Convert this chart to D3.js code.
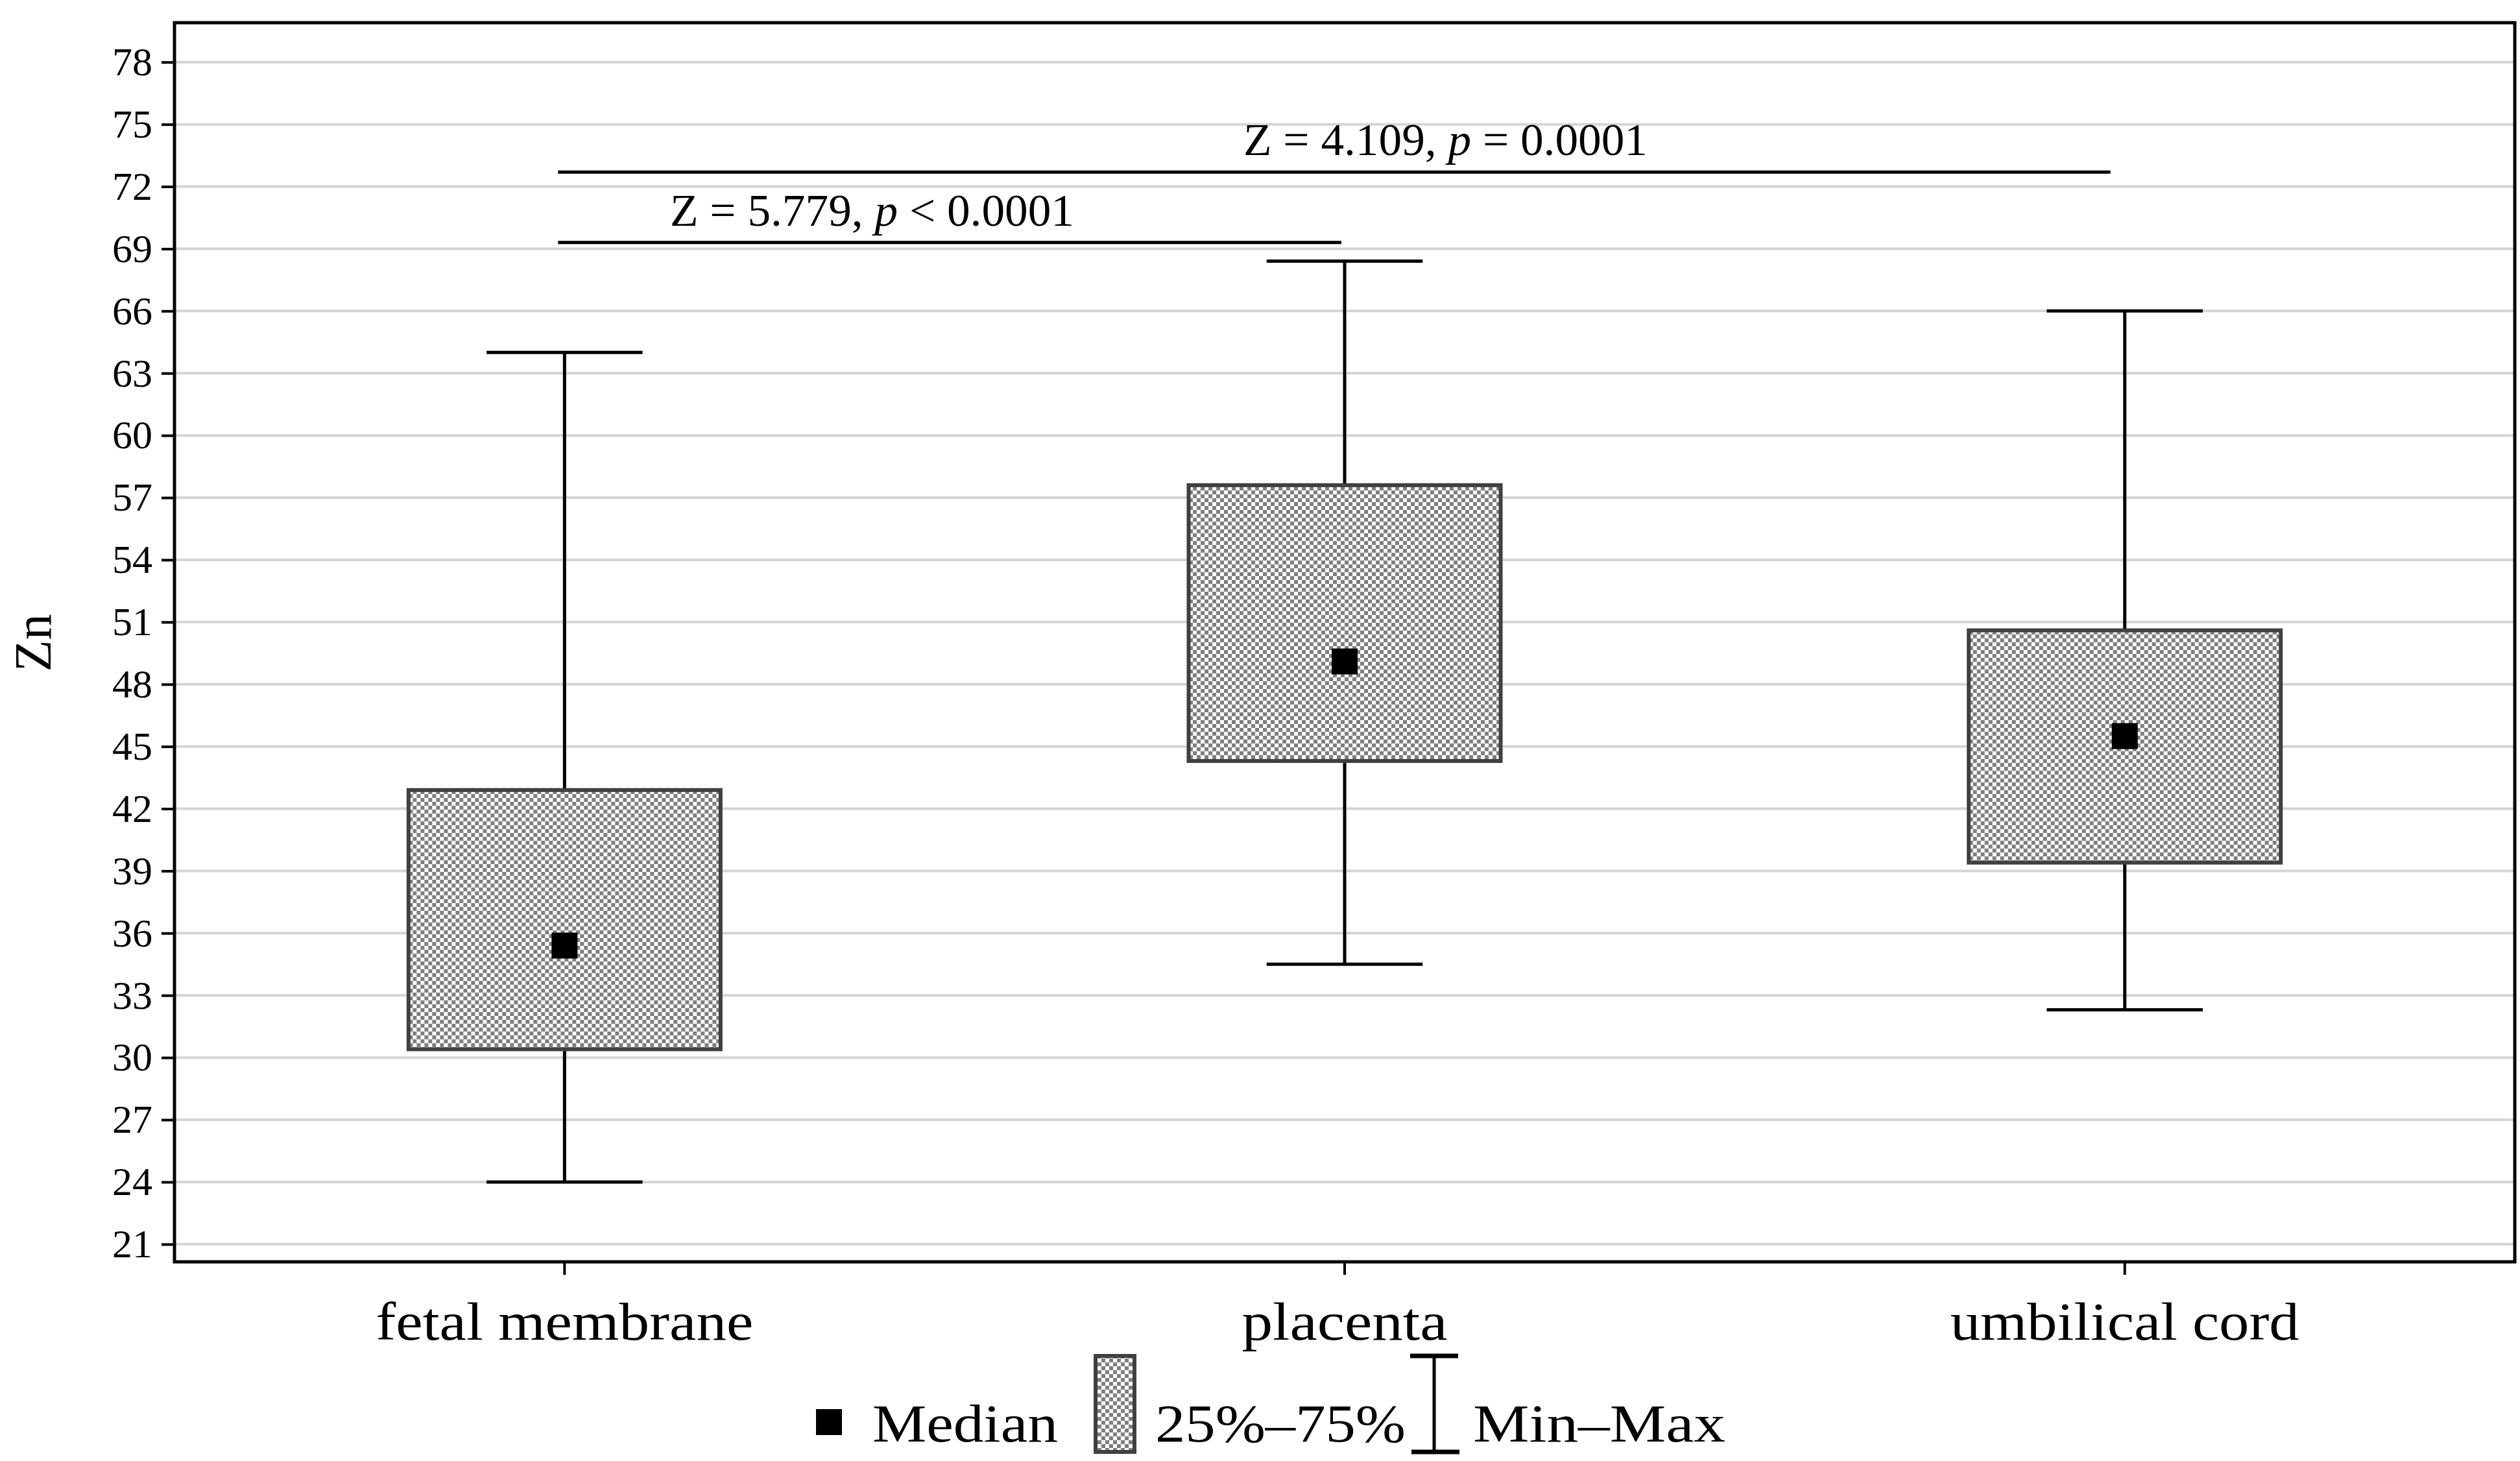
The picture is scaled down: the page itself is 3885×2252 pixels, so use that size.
<!DOCTYPE html>
<html><head><meta charset="utf-8">
<script src="https://cdn.jsdelivr.net/npm/d3@7"></script>
<style>body{margin:0;background:#fff}text{font-family:"Liberation Serif",serif;fill:#000}</style>
</head><body><svg width="3885" height="2252"></svg>
<script>
var categories = ['fetal membrane', 'placenta', 'umbilical cord'];
var mins = [24, 34.5, 32.3];
var q1s = [30.4, 44.3, 39.4];
var medians = [35.4, 49.1, 45.5];
var q3s = [42.9, 57.6, 50.6];
var maxs = [64, 68.4, 66];
var yTicks = d3.range(21, 79, 3);
var tests = [
  {from: 0, to: 1, y: 69.3, text: ['Z = 5.779, ', 'p', ' < 0.0001']},
  {from: 0, to: 2, y: 72.7, text: ['Z = 4.109, ', 'p', ' = 0.0001']}
];

const svg = d3.select('svg');
const margin = {top: 35, right: 8, bottom: 307, left: 269};
const W = 3885, H = 2252;
const catWidths = [582, 317, 538];

let x = d3.scaleBand().domain(categories).range([margin.left, W - margin.right]);
let y = d3.scaleLinear().domain([20.15, 79.9]).range([H - margin.bottom, margin.top]);

let defs = svg.append('defs');
let pat = defs.append('pattern').attr('id', 'chk').attr('patternUnits', 'userSpaceOnUse')
  .attr('width', 12).attr('height', 12);
pat.append('rect').attr('width', 12).attr('height', 12).attr('fill', '#fff');
pat.append('rect').attr('width', 6).attr('height', 6).attr('fill', '#7f7f7f');
pat.append('rect').attr('x', 6).attr('y', 6).attr('width', 6).attr('height', 6).attr('fill', '#7f7f7f');

// grid
svg.append('g').selectAll('line').data(yTicks).enter().append('line')
  .attr('x1', margin.left).attr('x2', W - margin.right)
  .attr('y1', d => y(d)).attr('y2', d => y(d))
  .attr('stroke', '#d4d4d4').attr('stroke-width', 4);

let yAxis = svg.append('g').attr('transform', `translate(${margin.left},0)`)
  .call(d3.axisLeft(y).tickValues(yTicks).tickSize(20).tickPadding(14));
yAxis.select('.domain').remove();
yAxis.selectAll('line').attr('stroke-width', 4);
yAxis.selectAll('text').style('font-size', '62px').style('font-family', '"Liberation Serif",serif');

let xAxis = svg.append('g').attr('transform', `translate(0,${H - margin.bottom})`)
  .call(d3.axisBottom(x).tickSize(20).tickPadding(42));
xAxis.select('.domain').remove();
xAxis.selectAll('line').attr('stroke-width', 4);
xAxis.selectAll('text').style('font-size', '82px').style('font-family', '"Liberation Serif",serif')
  .attr('textLength', (d, i) => catWidths[i]).attr('lengthAdjust', 'spacingAndGlyphs');

svg.append('rect').attr('x', margin.left).attr('y', margin.top)
  .attr('width', W - margin.right - margin.left).attr('height', H - margin.bottom - margin.top)
  .attr('fill', 'none').attr('stroke', '#000').attr('stroke-width', 5);

svg.append('text').attr('transform', `translate(78,${y(50)}) rotate(-90)`)
  .attr('text-anchor', 'middle').style('font-size', '80px').text('Zn');

let bw = x.bandwidth();
let g = svg.append('g').selectAll('g').data(categories).enter().append('g')
  .attr('transform', d => `translate(${x(d) + bw / 2},0)`);
g.append('line').attr('y1', (d, i) => y(mins[i])).attr('y2', (d, i) => y(maxs[i]))
  .attr('stroke', '#000').attr('stroke-width', 5);
g.append('line').attr('x1', -bw * 0.1).attr('x2', bw * 0.1)
  .attr('y1', (d, i) => y(mins[i])).attr('y2', (d, i) => y(mins[i])).attr('stroke', '#000').attr('stroke-width', 5);
g.append('line').attr('x1', -bw * 0.1).attr('x2', bw * 0.1)
  .attr('y1', (d, i) => y(maxs[i])).attr('y2', (d, i) => y(maxs[i])).attr('stroke', '#000').attr('stroke-width', 5);
g.append('rect').attr('x', -bw * 0.2).attr('width', bw * 0.4)
  .attr('y', (d, i) => y(q3s[i])).attr('height', (d, i) => y(q1s[i]) - y(q3s[i]))
  .attr('fill', 'url(#chk)').attr('stroke', '#404040').attr('stroke-width', 6);
g.append('rect').attr('x', -20).attr('width', 40)
  .attr('y', (d, i) => y(medians[i]) - 20).attr('height', 40).attr('fill', '#000');

// significance lines
tests.forEach(t => {
  let x1 = x(categories[t.from]) + bw / 2 - 10, x2 = x(categories[t.to]) + bw / 2 - (t.to == 2 ? 22 : 5);
  svg.append('line').attr('x1', x1).attr('x2', x2).attr('y1', y(t.y)).attr('y2', y(t.y))
    .attr('stroke', '#000').attr('stroke-width', 5);
  let tx = t.to == 1 ? 1033 : 1917;
  let txt = svg.append('text').attr('x', tx).attr('y', y(t.y) - 26)
    .style('font-size', '70px').attr('textLength', 623).attr('lengthAdjust', 'spacingAndGlyphs');
  t.text.forEach((s, i) => txt.append('tspan').style('font-style', i == 1 ? 'italic' : 'normal').text(s));
});

// legend
let ly = 2222;
function legText(x0, w, s) {
  svg.append('text').attr('x', x0).attr('y', ly).style('font-size', '82px')
    .attr('textLength', w).attr('lengthAdjust', 'spacingAndGlyphs').text(s);
}
svg.append('rect').attr('x', 1258).attr('y', 2172).attr('width', 40).attr('height', 40).attr('fill', '#000');
legText(1345, 286, 'Median');
svg.append('rect').attr('x', 1689).attr('y', 2090).attr('width', 60).attr('height', 148)
  .attr('fill', 'url(#chk)').attr('stroke', '#404040').attr('stroke-width', 6);
legText(1781, 386, '25%–75%');
svg.append('line').attr('x1', 2211).attr('x2', 2211).attr('y1', 2090).attr('y2', 2238).attr('stroke', '#000').attr('stroke-width', 5);
svg.append('line').attr('x1', 2174).attr('x2', 2248).attr('y1', 2090).attr('y2', 2090).attr('stroke', '#000').attr('stroke-width', 7);
svg.append('line').attr('x1', 2176).attr('x2', 2250).attr('y1', 2238).attr('y2', 2238).attr('stroke', '#000').attr('stroke-width', 7);
legText(2271, 389, 'Min–Max');
</script></body></html>
